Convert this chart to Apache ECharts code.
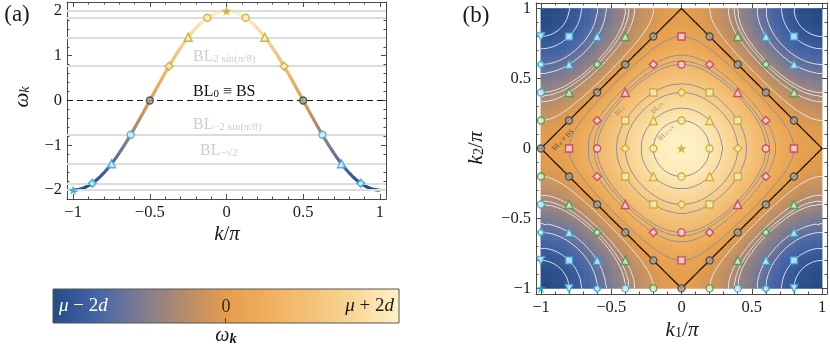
<!DOCTYPE html>
<html><head><meta charset="utf-8">
<script src="https://cdn.jsdelivr.net/npm/echarts@6/dist/echarts.min.js"></script>
<style>html,body{margin:0;padding:0;background:#fff}#c{width:830px;height:345px}</style>
</head><body><div id="c"></div>
<script>
// ================= DATA =================
// dispersion omega_k read along k/pi = 0, 0.02, ..., 1 (curve is symmetric in k)
const kStep = 0.02;
const omegaHalf = [2.000,1.996,1.984,1.965,1.937,1.902,1.860,1.810,1.753,1.689,
  1.618,1.541,1.458,1.369,1.275,1.176,1.072,0.964,0.852,0.736,
  0.618,0.497,0.375,0.251,0.126,0.000,-0.126,-0.251,-0.375,-0.497,
  -0.618,-0.736,-0.852,-0.964,-1.072,-1.176,-1.275,-1.369,-1.458,-1.541,
  -1.618,-1.689,-1.753,-1.810,-1.860,-1.902,-1.937,-1.965,-1.984,-1.996,-2.000];

// panel (a) band-level lines and marked states
const levelsA = [2, 1.848, 1.414, 0.765, -0.765, -1.414, -1.848, -2];
const markA_k = [-1, -0.875, -0.75, -0.625, -0.5, -0.375, -0.25, -0.125, 0, 0.125, 0.25, 0.375, 0.5, 0.625, 0.75, 0.875];
const markA_w = [-2, -1.848, -1.414, -0.765, 0, 0.765, 1.414, 1.848, 2, 1.848, 1.414, 0.765, 0, -0.765, -1.414, -1.848];
const markA_type = ['Cstar','Ccircdia','Ctri','Ccirc','Kcirc','Ydia','Ytri','Ycirc','Ystar','Ycirc','Ytri','Ydia','Kcirc','Ccirc','Ctri','Ccircdia'];

// panel (b) lattice momenta and marker type by (|k1|/0.2, |k2|/0.2)
const latticeK = [-1, -0.8, -0.6, -0.4, -0.2, 0, 0.2, 0.4, 0.6, 0.8];
const latticeType = [
  ['Ystar','Ycirc','Ydia','Rcirc','Rsq','Kcirc'],
  ['Ycirc','Ytri','Ysq','Rdia','Kcirc','Gcirc'],
  ['Ydia','Ysq','Rtri','Kcirc','Gtri','Ccirc'],
  ['Rcirc','Rdia','Kcirc','Gcircdia','Ctri','Ccircdia'],
  ['Rsq','Kcirc','Gtri','Ctri','Csq','Ctridown'],
  ['Kcirc','Gcirc','Ccirc','Ccircdia','Ctridown','Cstar']
];
// contour levels of panel (b)
const levelsPos = [1.809, 1.618, 1.309, 1.118, 0.691, 0.618, 0.5, 0.191];
const levelsNeg = [-0.191, -0.5, -0.618, -0.691, -1.118, -1.309, -1.618, -1.809];
const levelZero = [0];

// tick labels
const xTicksA = [-1, -0.5, 0, 0.5, 1];
const yTicksA = [-2, -1, 0, 1, 2];
const ticksB = [-1, -0.5, 0, 0.5, 1];

// colour scale from mu-2d to mu+2d
const cmapColors = ['#254b84','#4464a6','#7b7b93','#b28b6c','#e59d4c','#efb05e','#f4c27a','#f9d898','#fef2c6'];

// ================= BUILD =================
const SERIF = '"Liberation Serif","DejaVu Serif",serif';
const markerColors = {Y:'#c9a514', R:'#c8325a', G:'#3d9a3d', K:'#3a3a3a', C:'#2aa6d6'};
const STAR = 'path://M0,-10L2.35,-3.24L9.51,-3.09L3.80,1.24L5.88,8.09L0,4L-5.88,8.09L-3.80,1.24L-9.51,-3.09L-2.35,-3.24Z';
const CIRCDIA = 'path://M-4,0A4,4 0 1,1 4,0A4,4 0 1,1 -4,0ZM0,-5.6L5.6,0L0,5.6L-5.6,0Z';
const shapeDefs = {
  star:{symbol:STAR, size:10, solid:true},
  circ:{symbol:'circle', size:7},
  tri:{symbol:'triangle', size:8},
  tridown:{symbol:'triangle', size:8, rotate:180},
  sq:{symbol:'rect', size:7},
  dia:{symbol:'diamond', size:8},
  circdia:{symbol:CIRCDIA, size:8}
};
function lighten(hex, f){
  const n = parseInt(hex.slice(1),16); const r=(n>>16)&255, g=(n>>8)&255, b=n&255;
  const m = c => Math.round(c*(1-f)+255*f);
  return 'rgb('+m(r)+','+m(g)+','+m(b)+')';
}
function markerItem(x, y, type){
  const col = markerColors[type[0]]; const sh = shapeDefs[type.slice(1)];
  const f = type[0] === 'K' ? 0.55 : 0.8;
  return {value:[x,y], symbol:sh.symbol, symbolSize:sh.size, symbolRotate:sh.rotate||0,
    itemStyle:{color: sh.solid ? col : lighten(col,f), borderColor: col, borderWidth: sh.solid?0:1.4}};
}

const omegaFull = omegaHalf.slice(1).reverse().concat(omegaHalf);
const kAll = omegaFull.map((_, i) => Math.round((-1 + i*kStep)*1000)/1000);
const curveA = kAll.map((k, i) => [k, omegaFull[i]]);
const markersA = markA_k.map((k, i) => markerItem(k, markA_w[i], markA_type[i]));

const field = kAll.map((_, i) => kAll.map((__, j) => (omegaFull[i] + omegaFull[j]) / 2));
const heatData = [];
for (let i = 0; i < kAll.length; i++) for (let j = 0; j < kAll.length; j++) heatData.push([kAll[i], kAll[j], field[i][j]]);

const markersB = [];
latticeK.forEach(k1 => latticeK.forEach(k2 => {
  const a = Math.round(Math.abs(k1)/0.2), b = Math.round(Math.abs(k2)/0.2);
  markersB.push(markerItem(k1, k2, latticeType[a][b]));
}));

function contourSegments(level){
  const L = level + 1e-6, n = kAll.length, segs = [];
  for (let i = 0; i < n-1; i++) for (let j = 0; j < n-1; j++) {
    const v = [field[i][j], field[i+1][j], field[i+1][j+1], field[i][j+1]];
    const p = [[kAll[i],kAll[j]],[kAll[i+1],kAll[j]],[kAll[i+1],kAll[j+1]],[kAll[i],kAll[j+1]]];
    const pts = [];
    for (let e = 0; e < 4; e++) {
      const a = e, b = (e+1)%4, va = v[a]-L, vb = v[b]-L;
      if ((va > 0) !== (vb > 0)) { const t = va/(va-vb); pts.push([p[a][0]+t*(p[b][0]-p[a][0]), p[a][1]+t*(p[b][1]-p[a][1])]); }
    }
    if (pts.length === 2) segs.push({coords:[pts[0], pts[1]]});
    else if (pts.length === 4) { segs.push({coords:[pts[0], pts[1]]}); segs.push({coords:[pts[2], pts[3]]}); }
  }
  return segs;
}
const segPos = [].concat(...levelsPos.map(contourSegments));
const segNeg = [].concat(...levelsNeg.map(contourSegments));
const segZero = [].concat(...levelZero.map(contourSegments));

function tickFmt(ticks){ return v => { const r = Math.round(v*1000)/1000; if (!ticks.includes(r)) return ''; return r < 0 ? '\u2212' + Math.abs(r) : String(r); }; }
function mkAxis(gridIndex, position, min, max, step, showLabels, ticks){
  return {type:'value', gridIndex, position, min, max, minInterval:step, maxInterval:step,
    axisLine:{show:true, onZero:false, lineStyle:{color:'#4a4a4a', width:1}},
    axisTick:{show:true, inside:true, length:5, lineStyle:{color:'#4a4a4a', width:1}},
    minorTick:{show:true, splitNumber:5, length:2.5, lineStyle:{color:'#4a4a4a', width:1}},
    splitLine:{show:false}, minorSplitLine:{show:false},
    axisLabel:{show:showLabels, margin:5, fontFamily:SERIF, fontSize:16.5, color:'#1a1a1a', formatter: tickFmt(ticks)}};
}

const chart = echarts.init(document.getElementById('c'), null, {renderer:'canvas'});
const cmapStops = cmapColors.map((c, i) => ({offset: i/(cmapColors.length-1), color: c}));

function T(x, y, text, rich, opt){
  opt = opt || {};
  return {type:'text', x, y, rotation: opt.rot || 0, z: 100,
    style:{text, rich, fill: opt.fill || '#1a1a1a', font: (opt.size||16)+'px '+SERIF,
      align: opt.align || 'center', verticalAlign:'middle'}};
}
function richSet(size, color){
  return {
    m:{fontSize:size, fontFamily:SERIF, fill:color},
    i:{fontSize:size, fontFamily:SERIF, fontStyle:'italic', fill:color},
    b:{fontSize:size*0.72, fontFamily:SERIF, fontStyle:'italic', fontWeight:'bold', fill:color, lineHeight:size*0.3, verticalAlign:'bottom'},
    s:{fontSize:size*0.68, fontFamily:SERIF, fill:color, lineHeight:size*0.3, verticalAlign:'bottom'},
    si:{fontSize:size*0.68, fontFamily:SERIF, fontStyle:'italic', fill:color, lineHeight:size*0.3, verticalAlign:'bottom'}
  };
}
const lightGray = '#cdcdcd';
const graphics = [
  T(17, 15, '(a)', null, {size:23}),
  T(476, 16, '(b)', null, {size:23}),
  T(227, 234, '{i|k}{m|/}{i|π}', richSet(21,'#1a1a1a')),
  T(22, 97, '{i|ω}{si|k}', richSet(21,'#1a1a1a'), {rot:Math.PI/2}),
  T(682, 330, '{i|k}{s|1}{m|/}{i|π}', richSet(21,'#1a1a1a')),
  T(476, 148, '{i|k}{s|2}{m|/}{i|π}', richSet(21,'#1a1a1a'), {rot:Math.PI/2}),
  T(193, 57, '{m|BL}{s|2 sin(}{si|π}{s|/8)}', richSet(16, lightGray), {align:'left'}),
  T(193, 92, '{m|BL}{s|0}{m| ≡ BS}', richSet(16, '#111'), {align:'left'}),
  T(193, 125, '{m|BL}{s|−2 sin(}{si|π}{s|/8)}', richSet(16, lightGray), {align:'left'}),
  T(200, 151, '{m|BL}{s|−√2}', richSet(16, lightGray), {align:'left'}),
  T(563, 140, '{m|BL}{s|0}{m| ≡ BS}', richSet(7, '#5d4a35'), {rot:Math.PI/4}),
  T(620, 111, '{m|BL}{s|1}', richSet(7, '#9a8a70'), {rot:Math.PI/4}),
  T(657, 108, '{m|BL}{s|√3}', richSet(7, '#9a8a70'), {rot:Math.PI/4}),
  T(666, 133, '{m|BL}{s|1+√3}', richSet(7, '#9a8a70'), {rot:Math.PI/4}),
  // colour bar
  {type:'rect', z:90, shape:{x:53, y:289, width:346, height:34},
    style:{fill:{type:'linear', x:0, y:0, x2:1, y2:0, colorStops:cmapStops}, stroke:'#555', lineWidth:1}},
  {type:'line', z:95, shape:{x1:225.5, y1:318, x2:225.5, y2:323}, style:{stroke:'#444', lineWidth:1}},
  T(59, 306, '{i|μ}{m| − 2}{i|d}', richSet(19, '#ffffff'), {align:'left'}),
  T(226, 307, '{m|0}', richSet(18, '#2a2a2a')),
  T(394, 306, '{i|μ}{m| + 2}{i|d}', richSet(19, '#1a1a1a'), {align:'right'}),
  T(226, 336, '{i|ω}{b|k}', richSet(20, '#1a1a1a'))
];

const option = {
  animation:false,
  grid:[{left:67, top:2, width:319, height:197}, {left:536, top:2, width:291, height:292}],
  xAxis:[mkAxis(0,'bottom',-1.04,1.04,0.5,true,xTicksA), mkAxis(0,'top',-1.04,1.04,0.5,false,xTicksA),
         mkAxis(1,'bottom',-1.035,1.035,0.5,true,ticksB), mkAxis(1,'top',-1.035,1.035,0.5,false,ticksB)],
  yAxis:[mkAxis(0,'left',-2.2,2.2,1,true,yTicksA), mkAxis(0,'right',-2.2,2.2,1,false,yTicksA),
         mkAxis(1,'left',-1.04,1.04,0.5,true,ticksB), mkAxis(1,'right',-1.04,1.04,0.5,false,ticksB)],
  visualMap:[
    {type:'continuous', show:false, seriesIndex:1, dimension:1, min:-2, max:2, inRange:{color:cmapColors}},
    {type:'continuous', show:false, seriesIndex:3, dimension:2, min:-2, max:2, inRange:{color:cmapColors}}
  ],
  series:[
    {type:'line', xAxisIndex:0, yAxisIndex:0, data:[], silent:true, z:1,
      markLine:{silent:true, symbol:['none','none'], label:{show:false}, animation:false,
        data: levelsA.map(v => ({yAxis:v, lineStyle:{color:'#dcdcdc', width:2, type:'solid'}}))
          .concat([{yAxis:0, lineStyle:{color:'#111', width:1.2, type:[6,4]}}])}},
    {type:'line', xAxisIndex:0, yAxisIndex:0, data:curveA, showSymbol:false, symbol:'none', z:3,
      lineStyle:{width:3.2}, smooth:false},
    {type:'scatter', xAxisIndex:0, yAxisIndex:0, data:markersA, z:5, symbolKeepAspect:true},
    {type:'custom', xAxisIndex:2, yAxisIndex:2, data:heatData, dimensions:['x','y','v'], encode:{x:0, y:1}, z:1, silent:true,
      renderItem:(params, api) => {
        const x = api.value(0), y = api.value(1), h = kStep/2;
        const p0 = api.coord([Math.max(-1, x-h), Math.min(1, y+h)]);
        const p1 = api.coord([Math.min(1, x+h), Math.max(-1, y-h)]);
        return {type:'rect', shape:{x:p0[0]-0.3, y:p0[1]-0.3, width:p1[0]-p0[0]+0.6, height:p1[1]-p0[1]+0.6},
          style:{fill: api.visual('color')}};
      }},
    {type:'lines', coordinateSystem:'cartesian2d', xAxisIndex:2, yAxisIndex:2, data:segPos, z:2, silent:true,
      lineStyle:{color:'#8a8f9e', width:1, opacity:1}},
    {type:'lines', coordinateSystem:'cartesian2d', xAxisIndex:2, yAxisIndex:2, data:segNeg, z:2, silent:true,
      lineStyle:{color:'#ececf0', width:1, opacity:0.9}},
    {type:'lines', coordinateSystem:'cartesian2d', xAxisIndex:2, yAxisIndex:2, data:segZero, z:3, silent:true,
      lineStyle:{color:'#111', width:1.3, opacity:1}},
    {type:'scatter', xAxisIndex:2, yAxisIndex:2, data:markersB, z:5, symbolKeepAspect:true}
  ],
  graphic: graphics
};
chart.setOption(option);
</script></body></html>
